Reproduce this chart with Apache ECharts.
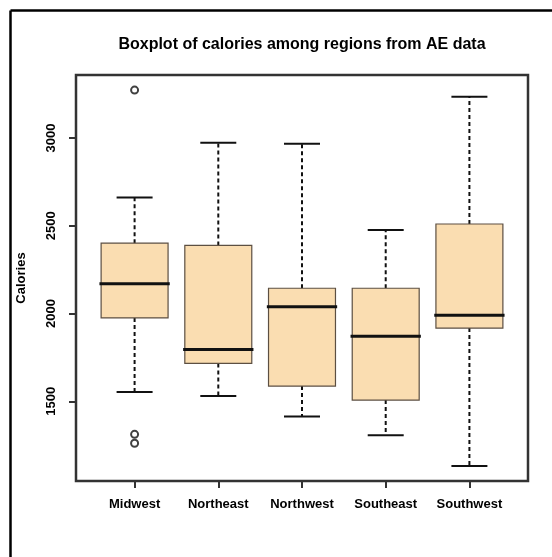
<!DOCTYPE html>
<html>
<head>
<meta charset="utf-8">
<script src="https://cdn.jsdelivr.net/npm/echarts@6/dist/echarts.min.js"></script>
<style>
  html, body { margin: 0; padding: 0; background: #ffffff; }
  #chart { width: 552px; height: 557px; }
</style>
</head>
<body>
<div id="chart"></div>
<script>
// Calories by region: five-number summaries plus outliers
const regions = ['Midwest', 'Northeast', 'Northwest', 'Southeast', 'Southwest'];
const whiskerLow  = [1553, 1530, 1413, 1307, 1132];
const q1          = [1975, 1716, 1587, 1507, 1917];
const medians     = [2170, 1795, 2038, 1871, 1990];
const q3          = [2401, 2388, 2144, 2144, 2510];
const whiskerHigh = [2661, 2973, 2968, 2476, 3235];
const outlierRegion = ['Midwest', 'Midwest', 'Midwest'];
const outlierValues = [3273, 1312, 1261];
const yTicks = [1500, 2000, 2500, 3000];

const boxData = regions.map((r, i) => [i + 1, whiskerLow[i], q1[i], medians[i], q3[i], whiskerHigh[i]]);
const outlierData = outlierValues.map((v, i) => [regions.indexOf(outlierRegion[i]) + 1, v]);

const FONT = '"Liberation Sans", Arial, sans-serif';

function renderBox(params, api) {
  const x = api.value(0);
  const lo = api.value(1), lower = api.value(2), med = api.value(3), upper = api.value(4), hi = api.value(5);
  const half = 0.4, capHalf = 0.215, medHalf = 0.42;
  const xL = api.coord([x - half, med])[0];
  const xR = api.coord([x + half, med])[0];
  const xC = api.coord([x, med])[0];
  const capL = api.coord([x - capHalf, med])[0];
  const capR = api.coord([x + capHalf, med])[0];
  const mL = api.coord([x - medHalf, med])[0];
  const mR = api.coord([x + medHalf, med])[0];
  const yLo = api.coord([x, lo])[1];
  const yQ1 = api.coord([x, lower])[1];
  const yMed = api.coord([x, med])[1];
  const yQ3 = api.coord([x, upper])[1];
  const yHi = api.coord([x, hi])[1];
  const dashStyle = { stroke: '#111', lineWidth: 2, lineDash: [4, 3] };
  const capStyle = { stroke: '#111', lineWidth: 2 };
  return {
    type: 'group',
    children: [
      { type: 'line', shape: { x1: xC, y1: yQ1, x2: xC, y2: yLo }, style: dashStyle },
      { type: 'line', shape: { x1: xC, y1: yQ3, x2: xC, y2: yHi }, style: dashStyle },
      { type: 'line', shape: { x1: capL, y1: yLo, x2: capR, y2: yLo }, style: capStyle },
      { type: 'line', shape: { x1: capL, y1: yHi, x2: capR, y2: yHi }, style: capStyle },
      { type: 'rect', shape: { x: xL, y: yQ3, width: xR - xL, height: yQ1 - yQ3 },
        style: { fill: '#FADDB1', stroke: '#5c4f42', lineWidth: 1.2 } },
      { type: 'line', shape: { x1: mL, y1: yMed, x2: mR, y2: yMed }, style: { stroke: '#111', lineWidth: 3 } }
    ]
  };
}

const chart = echarts.init(document.getElementById('chart'), null, { renderer: 'canvas' });
chart.setOption({
  animation: false,
  backgroundColor: '#ffffff',
  title: {
    text: 'Boxplot of calories among regions from AE data',
    left: 302,
    top: 37,
    padding: 0,
    textAlign: 'center',
    textStyle: { fontFamily: FONT, fontSize: 16, fontWeight: 'bold', color: '#000' }
  },
  graphic: [
    { type: 'line', shape: { x1: 10.5, y1: 10.5, x2: 10.5, y2: 557 }, style: { stroke: '#000', lineWidth: 2.5 } },
    { type: 'line', shape: { x1: 10.5, y1: 10.5, x2: 552, y2: 10.5 }, style: { stroke: '#000', lineWidth: 2.5 } }
  ],
  grid: {
    left: 76, right: 24, top: 75, bottom: 76,
    show: true, borderColor: '#333', borderWidth: 2.5, backgroundColor: 'transparent',
    outerBoundsMode: 'none'
  },
  xAxis: {
    type: 'value', min: 0.3, max: 5.7,
    axisLine: { show: false },
    splitLine: { show: false },
    axisTick: { show: true, customValues: [1, 2, 3, 4, 5], length: 7, lineStyle: { color: '#333', width: 2 } },
    axisLabel: {
      customValues: [1, 2, 3, 4, 5], margin: 17,
      formatter: v => regions[Math.round(v) - 1],
      fontFamily: FONT, fontSize: 13, fontWeight: 'bold', color: '#000'
    }
  },
  yAxis: {
    type: 'value', min: 1046, max: 3359,
    name: 'Calories', nameLocation: 'middle', nameGap: 48, nameRotate: 90,
    nameTextStyle: { fontFamily: FONT, fontSize: 13, fontWeight: 'bold', color: '#000' },
    axisLine: { show: false },
    splitLine: { show: false },
    axisTick: { show: true, customValues: yTicks, length: 7, lineStyle: { color: '#333', width: 2 } },
    axisLabel: {
      customValues: yTicks, rotate: 90, margin: 18,
      formatter: v => String(v),
      fontFamily: FONT, fontSize: 13, fontWeight: 'bold', color: '#000'
    }
  },
  series: [
    {
      type: 'custom',
      renderItem: renderBox,
      encode: { x: 0, y: [1, 2, 3, 4, 5] },
      data: boxData,
      z: 2
    },
    {
      type: 'scatter',
      data: outlierData,
      symbol: 'circle',
      symbolSize: 7,
      itemStyle: { color: '#fff', borderColor: '#111', borderWidth: 2 },
      z: 3
    }
  ]
});
</script>
</body>
</html>
